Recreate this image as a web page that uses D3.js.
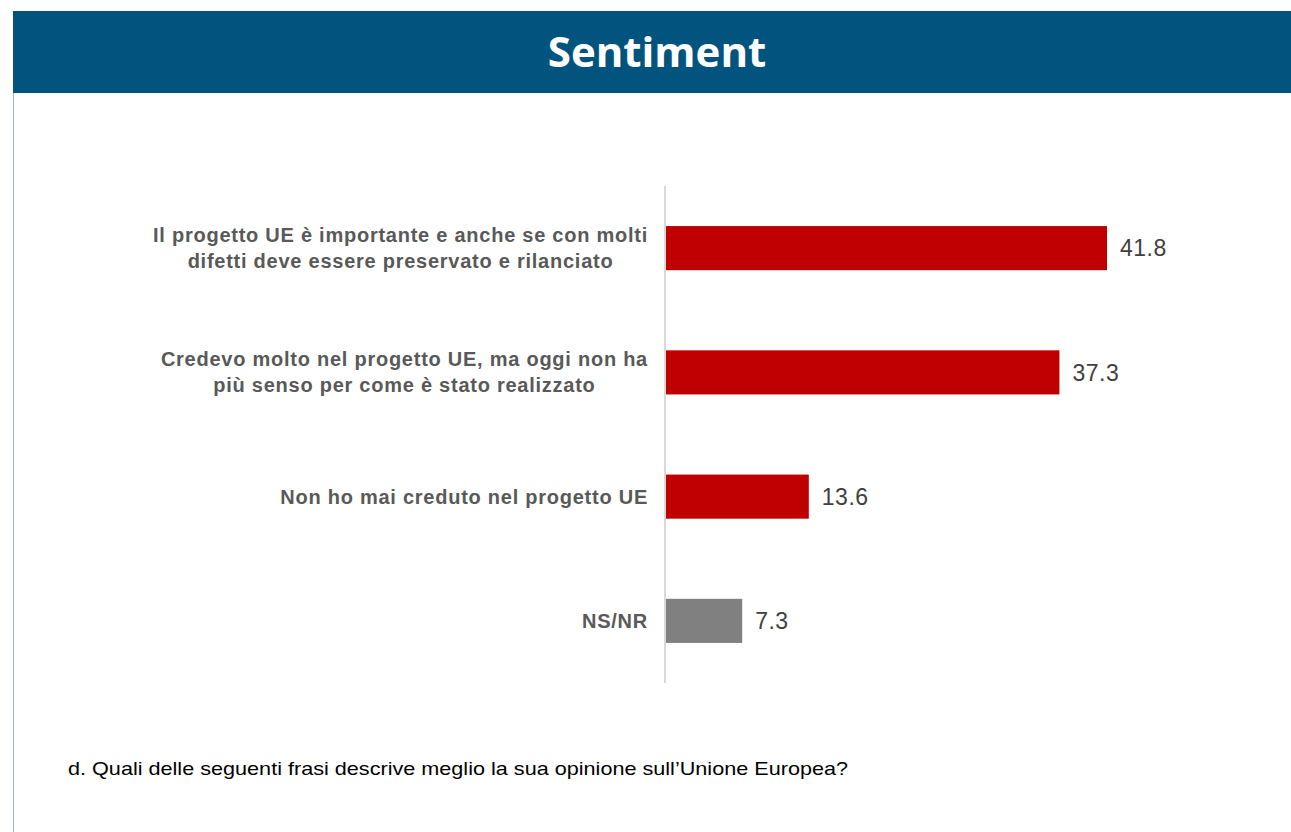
<!DOCTYPE html>
<html>
<head>
<meta charset="utf-8">
<script src="https://cdn.jsdelivr.net/npm/d3@7"></script>
<style>
  body { margin: 0; background: #fff; }
  svg { display: block; }
</style>
</head>
<body>
<svg width="1291" height="832"></svg>
<script>
// dati
const categorie = [
  ["Il progetto UE è importante e anche se con molti", "difetti deve essere preservato e rilanciato"],
  ["Credevo molto nel progetto UE, ma oggi non ha", "più senso per come è stato realizzato"],
  ["Non ho mai creduto nel progetto UE"],
  ["NS/NR"]
];
const valori = [41.8, 37.3, 13.6, 7.3];
const colori = ["#c00000", "#c00000", "#c00000", "#808080"];
const titolo = "Sentiment";
const domanda = "d. Quali delle seguenti frasi descrive meglio la sua opinione sull\u2019Unione Europea?";

const svg = d3.select("svg");

// fascia del titolo
svg.append("rect")
  .attr("x", 13).attr("y", 11)
  .attr("width", 1278).attr("height", 82)
  .attr("fill", "#03537f");

svg.append("text")
  .attr("x", 657).attr("y", 67)
  .attr("text-anchor", "middle")
  .attr("font-family", "Open Sans")
  .attr("font-weight", "bold")
  .attr("font-size", 42)
  .attr("fill", "#fff")
  .text(titolo);

// bordo sinistro
svg.append("line")
  .attr("x1", 13.5).attr("x2", 13.5)
  .attr("y1", 93).attr("y2", 832)
  .attr("stroke", "#9fb6cc")
  .attr("stroke-width", 1);

const x0 = 665;
const x = d3.scaleLinear().domain([0, 41.8]).range([x0, 1107]);
const y = d3.scaleBand()
  .domain(d3.range(valori.length))
  .range([186, 683])
  .paddingInner(0.645)
  .paddingOuter(0.3225);

// barre
svg.selectAll("rect.bar")
  .data(valori)
  .enter()
  .append("rect")
  .attr("class", "bar")
  .attr("x", x(0))
  .attr("y", (d, i) => y(i))
  .attr("width", d => x(d) - x(0))
  .attr("height", y.bandwidth())
  .attr("fill", (d, i) => colori[i]);

// asse verticale
svg.append("line")
  .attr("x1", x0).attr("x2", x0)
  .attr("y1", 186).attr("y2", 683)
  .attr("stroke", "#d9d9d9")
  .attr("stroke-width", 2);

// valori
svg.selectAll("text.val")
  .data(valori)
  .enter()
  .append("text")
  .attr("class", "val")
  .attr("x", d => x(d) + 13)
  .attr("y", (d, i) => y(i) + y.bandwidth() / 2)
  .attr("dy", "0.36em")
  .attr("font-family", "Liberation Sans, Arial")
  .attr("font-size", 23)
  .attr("letter-spacing", 0.5)
  .attr("fill", "#404040")
  .text(d => d.toFixed(1));

// etichette categorie (testo centrato, bordo destro a 648)
categorie.forEach((righe, i) => {
  const g = svg.append("text")
    .attr("font-family", "Liberation Sans, Arial")
    .attr("font-weight", "bold")
    .attr("font-size", 20)
    .attr("letter-spacing", 0.75)
    .attr("fill", "#595959")
    .attr("text-anchor", "middle");
  const cy = y(i) + y.bandwidth() / 2;
  const off = (righe.length - 1) / 2;
  const spans = righe.map((r, k) => g.append("tspan")
    .attr("y", cy + (k - off) * 26)
    .attr("dy", "0.35em")
    .text(r));
  const w = d3.max(spans, s => s.node().getComputedTextLength());
  spans.forEach(s => s.attr("x", 648 - w / 2));
});

// domanda
svg.append("text")
  .attr("x", 68).attr("y", 775)
  .attr("font-family", "Liberation Sans, Arial")
  .attr("font-size", 19)
  .attr("fill", "#000")
  .attr("textLength", 780)
  .attr("lengthAdjust", "spacingAndGlyphs")
  .text(domanda);
</script>
</body>
</html>
